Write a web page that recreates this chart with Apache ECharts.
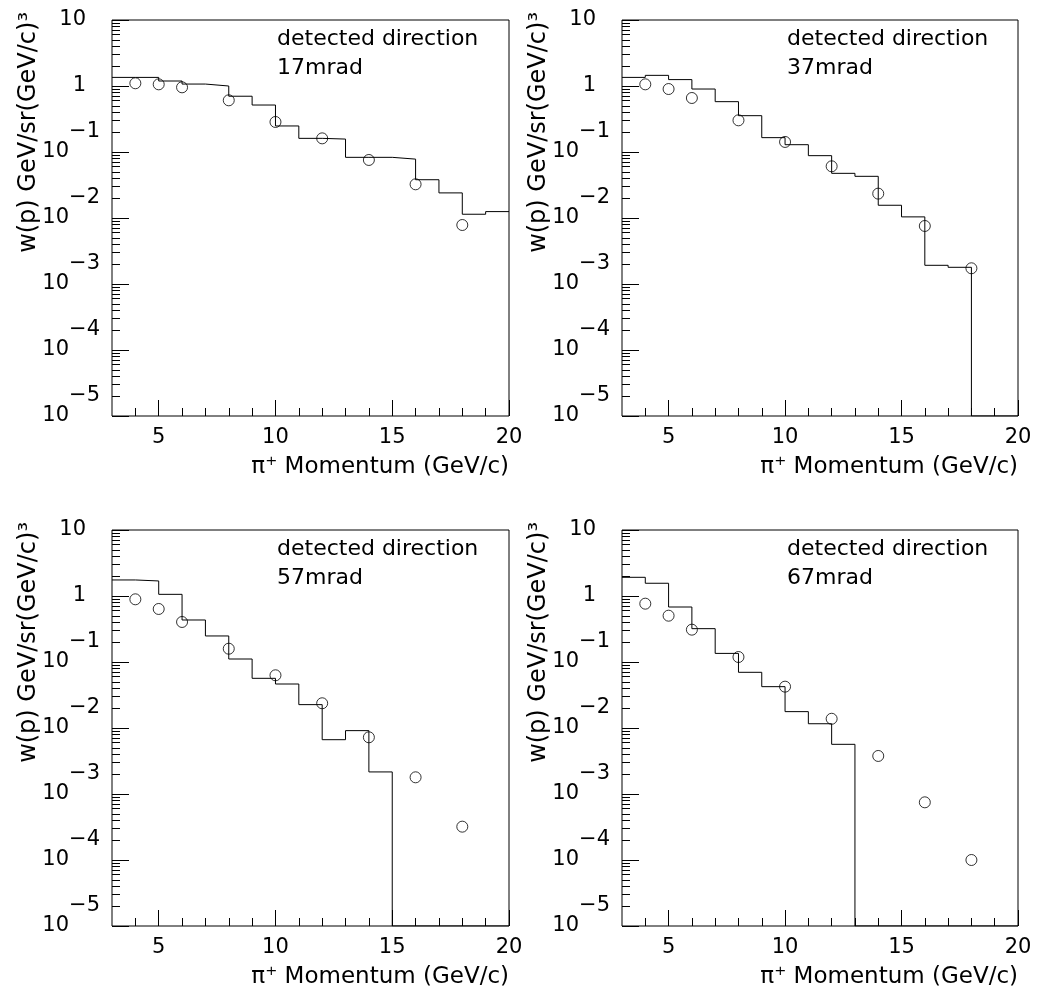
<!DOCTYPE html>
<html>
<head>
<meta charset="utf-8">
<script src="https://cdn.jsdelivr.net/npm/echarts@6/dist/echarts.min.js"></script>
<style>
  html, body { margin: 0; padding: 0; background: #fff; }
  #chart { width: 1037px; height: 997px; }
</style>
</head>
<body>
<div id="chart"></div>
<script>
// Momentum bin edges (GeV/c) of the simulated spectra
const binEdges = [3, 4, 5, 6, 7, 8, 9, 10, 11, 12, 13, 14, 15, 16, 17, 18, 19, 20];
// Momenta of the measured points (GeV/c)
const pointMomenta = [4, 5, 6, 8, 10, 12, 14, 16, 18];

// Detected directions
const directions = ['17mrad', '37mrad', '57mrad', '67mrad'];

// Simulated spectra, one value per bin (0 = empty bin)
const hist17 = [1.35, 1.35, 1.19, 1.07, 1.0, 0.70, 0.515, 0.248, 0.161, 0.157, 0.083, 0.083, 0.078, 0.038, 0.024, 0.0114, 0.0125];
const hist37 = [1.35, 1.45, 1.25, 0.90, 0.579, 0.355, 0.165, 0.129, 0.088, 0.0475, 0.0428, 0.0156, 0.0104, 0.00192, 0.00179, 0, 0];
const hist57 = [1.75, 1.69, 1.06, 0.433, 0.248, 0.111, 0.0566, 0.0464, 0.0226, 0.00665, 0.00912, 0.00216, 0, 0, 0, 0, 0];
const hist67 = [1.92, 1.56, 0.681, 0.320, 0.135, 0.0698, 0.0423, 0.0177, 0.0116, 0.00566, 0, 0, 0, 0, 0, 0, 0];

// Measured w(p) at pointMomenta
const pts17 = [1.10, 1.06, 0.955, 0.607, 0.285, 0.161, 0.0757, 0.0324, 0.00783];
const pts37 = [1.06, 0.90, 0.658, 0.302, 0.142, 0.0607, 0.0234, 0.00757, 0.00173];
const pts57 = [0.891, 0.636, 0.404, 0.159, 0.0629, 0.0237, 0.00723, 0.00179, 0.00032];
const pts67 = [0.765, 0.503, 0.309, 0.119, 0.0423, 0.0138, 0.00377, 0.000748, 0.0001];

// Axis ticks
const xRange = [3, 20];
const xMajorTicks = [5, 10, 15, 20];
const xMinorTicks = [4, 6, 7, 8, 9, 11, 12, 13, 14, 16, 17, 18, 19];
const yDecades = [1e-5, 1e-4, 1e-3, 1e-2, 1e-1, 1, 10];
const yMinorMultipliers = [2, 3, 4, 5, 6, 7, 8, 9];

const xTitle = 'π\u207A Momentum (GeV/c)';
const yTitle = 'w(p) GeV/sr(GeV/c)\u00B3';
const annotationLine1 = 'detected direction';

const histograms = [hist17, hist37, hist57, hist67];
const points = [pts17, pts37, pts57, pts67];

// Plot frames in page pixels
const frames = [
  { left: 112, top: 20, width: 397, height: 396 },
  { left: 622, top: 20, width: 396, height: 396 },
  { left: 112, top: 530, width: 397, height: 396 },
  { left: 622, top: 530, width: 396, height: 396 }
];

const FONT = '"DejaVu Sans", "Liberation Sans", sans-serif';
const INK = '#000';
const yMin = yDecades[0];
const yMax = yDecades[yDecades.length - 1];

const yMinorValues = [];
yDecades.slice(0, -1).forEach(d => yMinorMultipliers.forEach(m => yMinorValues.push(+(d * m).toPrecision(3))));

function decadeLabel(v) {
  const e = Math.round(Math.log10(v));
  if (e === 1) return '{p|10}';
  if (e === 0) return '{p|1}';
  return '{b|10}{s|\u2212' + (-e) + '}';
}

const tickFont = { fontFamily: FONT, fontSize: 21, color: INK };

const grids = [], xAxes = [], yAxes = [], series = [], graphics = [];

frames.forEach((f, i) => {
  grids.push({
    left: f.left, top: f.top, width: f.width, height: f.height,
    show: true, borderColor: INK, borderWidth: 1, backgroundColor: 'transparent'
  });

  // Major x ticks with labels
  xAxes.push({
    type: 'value', gridIndex: i, min: xRange[0], max: xRange[1], position: 'bottom',
    axisLine: { show: false }, splitLine: { show: false },
    axisTick: { show: true, inside: true, length: 16, customValues: xMajorTicks, lineStyle: { color: INK, width: 1 } },
    axisLabel: Object.assign({ customValues: xMajorTicks, margin: 11, showMinLabel: true, showMaxLabel: true }, tickFont)
  });
  // Minor x ticks
  xAxes.push({
    type: 'value', gridIndex: i, min: xRange[0], max: xRange[1], position: 'bottom',
    axisLine: { show: false }, splitLine: { show: false },
    axisTick: { show: true, inside: true, length: 8, customValues: xMinorTicks, lineStyle: { color: INK, width: 1 } },
    axisLabel: { show: false }
  });

  // Decade y ticks with labels
  yAxes.push({
    type: 'log', logBase: 10, gridIndex: i, min: yMin, max: yMax, position: 'left',
    axisLine: { show: false }, splitLine: { show: false },
    axisTick: { show: true, inside: true, length: 17, customValues: yDecades, lineStyle: { color: INK, width: 1 } },
    axisLabel: {
      customValues: yDecades, margin: 12, formatter: decadeLabel, color: INK,
      showMinLabel: true, showMaxLabel: true,
      rich: {
        p: { fontFamily: FONT, fontSize: 21, color: INK, lineHeight: 20, padding: [0, 14, 0, 0] },
        b: { fontFamily: FONT, fontSize: 21, color: INK, lineHeight: 20, padding: [20, 0, 20, 0] },
        s: { fontFamily: FONT, fontSize: 21, color: INK, lineHeight: 20, padding: [0, 0, 40, 0] }
      }
    }
  });
  // Minor y ticks (2..9 within each decade)
  yAxes.push({
    type: 'log', logBase: 10, gridIndex: i, min: yMin, max: yMax, position: 'left',
    axisLine: { show: false }, splitLine: { show: false },
    axisTick: { show: true, inside: true, length: 8, customValues: yMinorValues, lineStyle: { color: INK, width: 1 } },
    axisLabel: { show: false }
  });

  // Step histogram: left edge of each bin, closed at the last edge
  const hist = histograms[i];
  const stepData = hist.map((v, k) => [binEdges[k], v > 0 ? v : yMin]);
  const last = hist[hist.length - 1];
  stepData.push([binEdges[binEdges.length - 1], last > 0 ? last : yMin]);

  series.push({
    type: 'line', xAxisIndex: 2 * i, yAxisIndex: 2 * i, step: 'end',
    data: stepData, showSymbol: false, symbol: 'none', clip: true,
    lineStyle: { color: INK, width: 1 }, z: 3
  });
  series.push({
    type: 'scatter', xAxisIndex: 2 * i, yAxisIndex: 2 * i,
    data: pointMomenta.map((p, k) => [p, points[i][k]]),
    symbol: 'circle', symbolSize: 11,
    itemStyle: { color: 'rgba(0,0,0,0)', borderColor: INK, borderWidth: 1 }, z: 4
  });

  // Direction annotation
  graphics.push({
    type: 'text', x: f.left + 165, y: f.top + 19,
    style: { text: annotationLine1, fontFamily: FONT, fontSize: 22, fill: INK, align: 'left', verticalAlign: 'middle' }
  });
  graphics.push({
    type: 'text', x: f.left + 165, y: f.top + 48,
    style: { text: directions[i], fontFamily: FONT, fontSize: 22, fill: INK, align: 'left', verticalAlign: 'middle' }
  });
  // Axis titles
  graphics.push({
    type: 'text', x: f.left + f.width, y: f.top + f.height + 51,
    style: { text: xTitle, fontFamily: FONT, fontSize: 23, fill: INK, align: 'right', verticalAlign: 'middle' }
  });
  graphics.push({
    type: 'text', x: f.left - 83, y: f.top - 8, rotation: Math.PI / 2,
    style: { text: yTitle, fontFamily: FONT, fontSize: 24, fill: INK, align: 'right', verticalAlign: 'middle' }
  });
});

const chart = echarts.init(document.getElementById('chart'), null, { renderer: 'canvas' });
chart.setOption({
  animation: false,
  backgroundColor: '#fff',
  grid: grids,
  xAxis: xAxes,
  yAxis: yAxes,
  series: series,
  graphic: graphics
});
</script>
</body>
</html>
